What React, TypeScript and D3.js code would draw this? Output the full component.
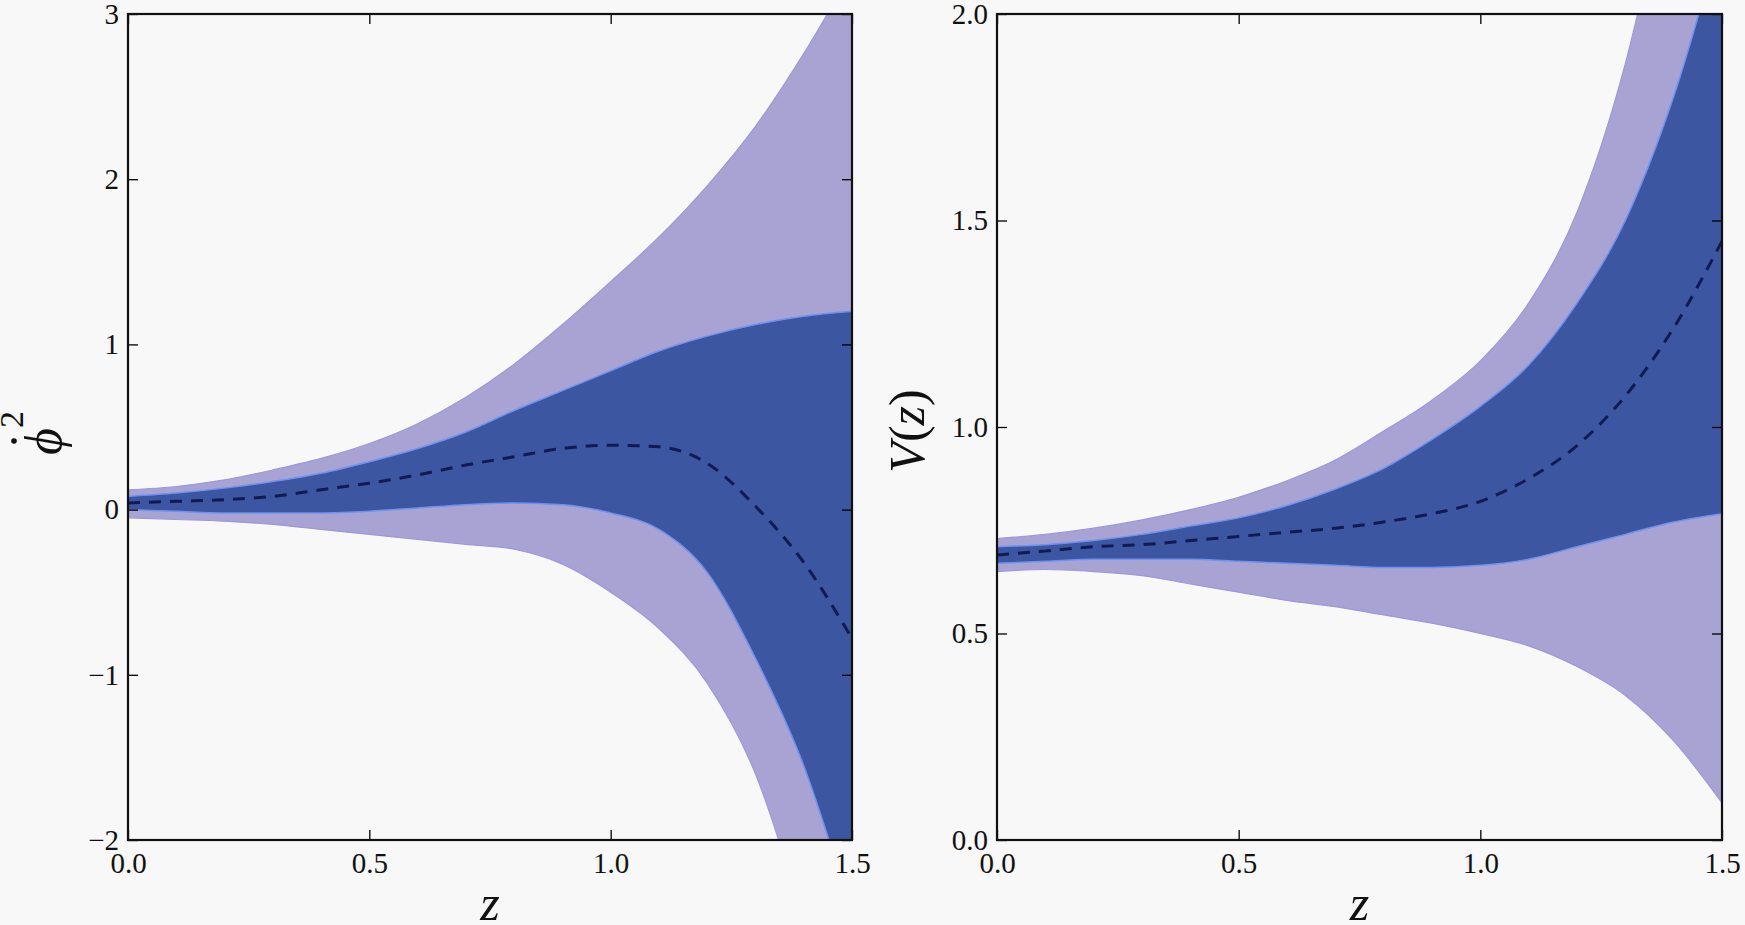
import * as d3 from 'd3';
import { useEffect, useRef } from 'react';

// redshift grid shared by every band
const zGrid = [0, 0.1, 0.2, 0.3, 0.4, 0.5, 0.6, 0.7, 0.8, 0.9, 1.0, 1.1, 1.2, 1.3, 1.4, 1.5];

// left panel: phi-dot squared
const phiOuterHi = [0.12, 0.14, 0.18, 0.24, 0.31, 0.40, 0.52, 0.68, 0.88, 1.12, 1.38, 1.65, 1.96, 2.32, 2.76, 3.26];
const phiInnerHi = [0.08, 0.10, 0.13, 0.17, 0.22, 0.29, 0.37, 0.47, 0.60, 0.72, 0.84, 0.96, 1.05, 1.12, 1.17, 1.20];
const phiMedian = [0.04, 0.05, 0.06, 0.08, 0.12, 0.16, 0.21, 0.27, 0.32, 0.37, 0.39, 0.38, 0.28, 0.02, -0.32, -0.78];
const phiInnerLo = [0.00, -0.01, -0.02, -0.02, -0.02, -0.01, 0.01, 0.03, 0.04, 0.03, -0.02, -0.12, -0.38, -0.90, -1.55, -2.45];
const phiOuterLo = [-0.05, -0.06, -0.07, -0.09, -0.12, -0.15, -0.18, -0.21, -0.24, -0.33, -0.50, -0.72, -1.05, -1.60, -2.50, -3.60];

// right panel: V(z)
const vOuterHi = [0.73, 0.74, 0.755, 0.775, 0.80, 0.83, 0.87, 0.92, 0.99, 1.065, 1.16, 1.30, 1.52, 1.88, 2.40, 3.00];
const vInnerHi = [0.71, 0.715, 0.725, 0.74, 0.76, 0.78, 0.81, 0.85, 0.90, 0.97, 1.05, 1.15, 1.30, 1.50, 1.80, 2.20];
const vMedian = [0.69, 0.70, 0.71, 0.715, 0.725, 0.735, 0.745, 0.755, 0.77, 0.79, 0.82, 0.875, 0.955, 1.075, 1.24, 1.45];
const vInnerLo = [0.67, 0.675, 0.68, 0.68, 0.68, 0.675, 0.67, 0.665, 0.66, 0.66, 0.665, 0.68, 0.71, 0.74, 0.77, 0.79];
const vOuterLo = [0.65, 0.655, 0.65, 0.64, 0.62, 0.60, 0.58, 0.565, 0.545, 0.525, 0.50, 0.47, 0.42, 0.35, 0.24, 0.09];

const xTicks = [0, 0.5, 1.0, 1.5];
const phiTicks = [-2, -1, 0, 1, 2, 3];
const vTicks = [0, 0.5, 1.0, 1.5, 2.0];

const W = 1745;
const H = 925;
const top = 14;
const bottom = 840;
const serif = '"Liberation Serif", "DejaVu Serif", serif';

const drawPanel = (
  svg: d3.Selection<SVGSVGElement, unknown, null, undefined>,
  id: string,
  left: number,
  right: number,
  yDomain: [number, number],
  yTicks: number[],
  yFmt: (d: number) => string,
  bands: { outerLo: number[]; innerLo: number[]; median: number[]; innerHi: number[]; outerHi: number[] }
) => {
  const x = d3.scaleLinear().domain([0, 1.5]).range([left, right]);
  const y = d3.scaleLinear().domain(yDomain).range([bottom, top]);
  const g = svg.append('g');

  g.append('clipPath').attr('id', id)
    .append('rect')
    .attr('x', left).attr('y', top)
    .attr('width', right - left).attr('height', bottom - top);

  const area = (lo: number[], hi: number[]) => d3.area<number>()
    .curve(d3.curveMonotoneX)
    .x(i => x(zGrid[i]))
    .y0(i => y(lo[i]))
    .y1(i => y(hi[i]))(d3.range(zGrid.length));

  const plot = g.append('g').attr('clip-path', `url(#${id})`);

  plot.append('path')
    .attr('d', area(bands.outerLo, bands.outerHi))
    .attr('fill', '#a8a3d2')
    .attr('stroke', '#9d96e4')
    .attr('stroke-width', 1.2);

  plot.append('path')
    .attr('d', area(bands.innerLo, bands.innerHi))
    .attr('fill', '#3c56a2')
    .attr('stroke', '#6f92ee')
    .attr('stroke-width', 1.5);

  const line = d3.line<number>()
    .curve(d3.curveMonotoneX)
    .x(i => x(zGrid[i]))
    .y(i => y(bands.median[i]));

  plot.append('path')
    .attr('d', line(d3.range(zGrid.length)))
    .attr('fill', 'none')
    .attr('stroke', '#121a52')
    .attr('stroke-width', 3)
    .attr('stroke-dasharray', '12,9');

  const fmtX = (d: number) => d3.format('.1f')(d);

  const styleAxis = (sel: d3.Selection<SVGGElement, unknown, null, undefined>) => {
    sel.select('.domain').remove();
    sel.selectAll('line').attr('stroke', '#000').attr('stroke-width', 1.3);
    sel.selectAll('text')
      .attr('font-family', serif)
      .attr('font-size', 29)
      .attr('fill', '#111');
  };

  g.append('g')
    .attr('transform', `translate(0, ${bottom})`)
    .call(d3.axisBottom(x).tickValues(xTicks).tickSizeInner(-10).tickSizeOuter(0).tickPadding(12).tickFormat(fmtX as any))
    .call(styleAxis);

  g.append('g')
    .attr('transform', `translate(0, ${top})`)
    .call(d3.axisTop(x).tickValues(xTicks).tickSizeInner(-10).tickSizeOuter(0).tickFormat(() => ''))
    .call(styleAxis);

  g.append('g')
    .attr('transform', `translate(${left}, 0)`)
    .call(d3.axisLeft(y).tickValues(yTicks).tickSizeInner(-10).tickSizeOuter(0).tickPadding(9).tickFormat(yFmt as any))
    .call(styleAxis);

  g.append('g')
    .attr('transform', `translate(${right}, 0)`)
    .call(d3.axisRight(y).tickValues(yTicks).tickSizeInner(-10).tickSizeOuter(0).tickFormat(() => ''))
    .call(styleAxis);

  g.append('rect')
    .attr('x', left).attr('y', top)
    .attr('width', right - left).attr('height', bottom - top)
    .attr('fill', 'none')
    .attr('stroke', '#111')
    .attr('stroke-width', 2.2);

  g.append('text')
    .attr('x', (left + right) / 2)
    .attr('y', 920)
    .attr('text-anchor', 'middle')
    .attr('font-family', serif)
    .attr('font-style', 'italic')
    .attr('font-size', 50)
    .attr('fill', '#111')
    .text('z');
};

const ChartFactory = (container: HTMLElement) => {
  const svg = d3.select(container).append('svg')
    .attr('width', W)
    .attr('height', H)
    .attr('viewBox', `0 0 ${W} ${H}`)
    .attr('style', 'position: absolute; left: 0; top: 0; display: block;');

  svg.append('rect').attr('width', W).attr('height', H).attr('fill', '#f8f8f8');

  drawPanel(svg, 'clip-phi', 128, 852, [-2, 3], phiTicks, d => d3.format('d')(d), {
    outerLo: phiOuterLo, innerLo: phiInnerLo, median: phiMedian, innerHi: phiInnerHi, outerHi: phiOuterHi,
  });

  drawPanel(svg, 'clip-v', 997, 1722, [0, 2], vTicks, d => d3.format('.1f')(d), {
    outerLo: vOuterLo, innerLo: vInnerLo, median: vMedian, innerHi: vInnerHi, outerHi: vOuterHi,
  });

  // y label of the left panel: dotted phi squared
  const phiLab = svg.append('g')
    .attr('transform', 'translate(61, 455) rotate(-90)')
    .attr('font-family', serif)
    .attr('fill', '#111');
  phiLab.append('text')
    .attr('x', 0).attr('y', 0)
    .attr('font-size', 52)
    .attr('font-style', 'italic')
    .text('ϕ');
  phiLab.append('circle')
    .attr('cx', 14).attr('cy', -47).attr('r', 2.8)
    .attr('fill', '#111');
  phiLab.append('text')
    .attr('x', 27).attr('y', -38)
    .attr('font-size', 34)
    .text('2');

  // y label of the right panel
  const vLab = svg.append('text')
    .attr('transform', 'translate(924, 431) rotate(-90)')
    .attr('text-anchor', 'middle')
    .attr('font-family', serif)
    .attr('font-size', 50)
    .attr('fill', '#111');
  vLab.append('tspan').attr('font-style', 'italic').text('V');
  vLab.append('tspan').text('(');
  vLab.append('tspan').attr('font-style', 'italic').text('z');
  vLab.append('tspan').text(')');

  return svg.node();
};

export default function App() {
  const domRef = useRef<HTMLDivElement>(null);
  useEffect(() => {
    if (domRef.current) {
      ChartFactory(domRef.current);
    }
    return () => {
      d3.select(domRef.current).selectAll('svg').remove();
    };
  }, [domRef]);
  return <div ref={domRef}></div>;
}
